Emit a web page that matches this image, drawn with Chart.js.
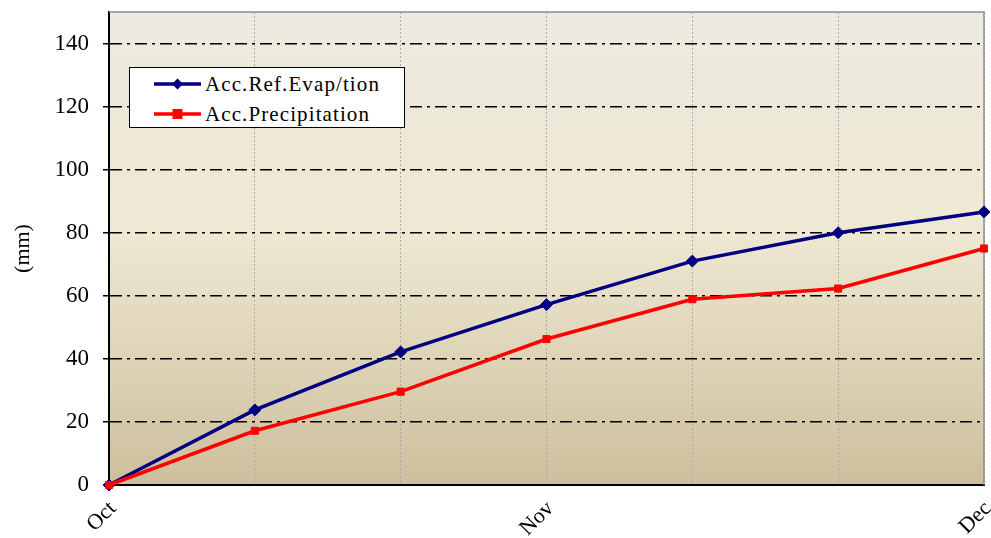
<!DOCTYPE html>
<html>
<head>
<meta charset="utf-8">
<script src="https://cdn.jsdelivr.net/npm/chart.js@4/dist/chart.umd.min.js"></script>
<style>
  html, body { margin: 0; padding: 0; background: #ffffff; }
  #wrap { position: relative; width: 991px; height: 538px; overflow: hidden; }
  #legend {
    position: absolute; left: 129px; top: 67px; width: 274px; height: 58px;
    background: #ffffff; border: 1.5px solid #000000; box-sizing: content-box;
    padding-top: 1px;
    font-family: "Liberation Serif", "Times New Roman", serif; font-size: 21px;
    letter-spacing: 1.1px; color: #000;
  }
  .lrow { height: 30px; display: flex; align-items: center; }
  .lrow svg { margin-left: 24px; margin-right: 4px; flex: none; }
</style>
</head>
<body>
<div id="wrap">
  <canvas id="c" width="991" height="538"></canvas>
  <div id="legend"></div>
</div>
<script>
const categories = ['Oct', '', '', 'Nov', '', '', 'Dec'];
const evapLabel = 'Acc.Ref.Evap/tion';
const evapValues = [0, 23.8, 42.2, 57.2, 71.0, 80.0, 86.6];
const precipLabel = 'Acc.Precipitation';
const precipValues = [0, 17.2, 29.6, 46.3, 58.9, 62.3, 75.0];
const yAxisTitle = '(mm)';
const yMin = 0, yMax = 150, yStep = 20;

const SERIF = '"Liberation Serif", "Times New Roman", serif';

const bgPlugin = {
  id: 'bgPlugin',
  beforeDraw(chart) {
    const a = chart.chartArea, ctx = chart.ctx;
    const g = ctx.createLinearGradient(0, a.top, 0, a.bottom);
    g.addColorStop(0, '#eceae0');
    g.addColorStop(0.45, '#efe9d4');
    g.addColorStop(1, '#cdbf9c');
    ctx.save();
    ctx.fillStyle = g;
    ctx.fillRect(a.left, a.top, a.right - a.left, a.bottom - a.top);
    ctx.restore();
  },
  beforeDatasetsDraw(chart) {
    const a = chart.chartArea, ctx = chart.ctx;
    ctx.save();
    ctx.strokeStyle = '#8c8c8c';
    ctx.lineWidth = 1.5;
    ctx.beginPath();
    ctx.moveTo(a.left, a.top);
    ctx.lineTo(a.right, a.top);
    ctx.lineTo(a.right, a.bottom);
    ctx.stroke();
    ctx.restore();
  }
};

const chart = new Chart(document.getElementById('c'), {
  type: 'line',
  data: {
    labels: categories,
    datasets: [
      {
        label: evapLabel, data: evapValues,
        borderColor: '#000080', backgroundColor: '#000080',
        borderWidth: 3.5, pointStyle: 'rectRot', pointRadius: 6,
        pointBorderWidth: 1, tension: 0, clip: false, order: 2
      },
      {
        label: precipLabel, data: precipValues,
        borderColor: '#ff0000', backgroundColor: '#ff0000',
        borderWidth: 3.5, pointStyle: 'rect', pointRadius: 5,
        pointBorderWidth: 1, tension: 0, clip: false, order: 1
      }
    ]
  },
  options: {
    responsive: false,
    animation: false,
    devicePixelRatio: 1,
    layout: { padding: { top: 12, right: 1, left: 0, bottom: 0 } },
    plugins: { legend: { display: false }, tooltip: { enabled: false } },
    scales: {
      x: {
        type: 'category',
        offset: false,
        grid: { color: '#aaaaaa', lineWidth: 1, drawTicks: false },
        border: { display: true, color: '#000000', width: 2, dash: [2, 2] },
        ticks: {
          autoSkip: false, maxRotation: 45, minRotation: 45,
          font: { family: SERIF, size: 22 }, color: '#000', padding: 11,
          labelOffset: 4
        },
        afterFit(scale) { scale.height = 53; scale.paddingLeft = 0; scale.paddingRight = 0; }
      },
      y: {
        min: yMin, max: yMax,
        ticks: {
          stepSize: yStep, includeBounds: false,
          font: { family: SERIF, size: 23 }, color: '#000', padding: 14
        },
        grid: {
          color: (c) => (c.tick && c.tick.value === 0) ? 'rgba(0,0,0,0)' : '#000000',
          lineWidth: 1.5, tickLength: 6, tickColor: '#000000', tickWidth: 1.5,
          tickBorderDash: []
        },
        border: { display: true, color: '#000000', width: 2, dash: [12, 5, 3, 5] },
        title: {
          display: true, text: yAxisTitle, color: '#000',
          font: { family: SERIF, size: 22 }, padding: { top: 10, bottom: 0 }
        },
        afterFit(scale) { scale.width = 109; scale.paddingTop = 0; scale.paddingBottom = 0; }
      }
    }
  },
  plugins: [bgPlugin]
});

// HTML legend built from the chart's datasets
const legendEl = document.getElementById('legend');
chart.data.datasets.forEach((ds) => {
  const row = document.createElement('div');
  row.className = 'lrow';
  const c = ds.borderColor;
  const marker = ds.pointStyle === 'rectRot'
    ? `<polygon points="23.5,0.5 29,6 23.5,11.5 18,6" fill="${c}"/>`
    : `<rect x="18.5" y="1" width="10" height="10" fill="${c}"/>`;
  row.innerHTML = `<svg width="47" height="12" viewBox="0 0 47 12"><line x1="0" y1="6" x2="47" y2="6" stroke="${c}" stroke-width="3.5"/>${marker}</svg><span></span>`;
  row.querySelector('span').textContent = ds.label;
  legendEl.appendChild(row);
});
</script>
</body>
</html>
